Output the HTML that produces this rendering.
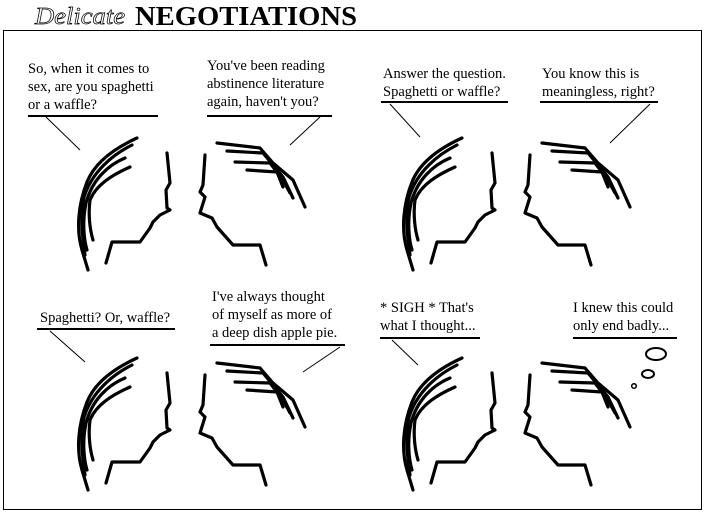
<!DOCTYPE html>
<html><head><meta charset="utf-8"><style>
html,body{margin:0;padding:0;background:#fff;width:705px;height:513px;overflow:hidden}
svg{display:block}
text{font-family:"Liberation Serif",serif;font-size:14.5px;fill:#000}
</style></head><body>
<svg width="705" height="513" viewBox="0 0 705 513" xmlns="http://www.w3.org/2000/svg">
<defs>
<g id="fig" fill="none" stroke="#000" stroke-width="3.2" stroke-linejoin="round" stroke-linecap="round">
  <path d="M137,138 C115,148 95,162 87,182 C78,205 76,230 82,250 L88,270"/>
  <path d="M132,145 C112,155 92,172 84,197 C80,215 82,235 85,255"/>
  <path d="M125,158 C108,165 92,180 86,203 C82,222 84,240 87,250"/>
  <path d="M130,167 C112,175 96,185 90,200 C88,215 90,230 93,240"/>
  <path d="M167,153 L170,183 L166,190 L167,208 L170,210 L160,215 L153,222 L150,228 L140,242 L112,242 L106,263"/>
  <path d="M205,155 L203,185 L200,192 L205,197 L200,213 L212,218 L217,227 L233,245 L260,245 L266,265"/>
  <path d="M217,143 L260,148 L273,163 L293,180 L305,207"/>
  <path d="M227,151 L263,153 L283,177 L293,198"/>
  <path d="M235,162 L270,163 L283,180 L290,193"/>
  <path d="M247,170 L277,172 L283,187"/>
</g>
</defs>
<rect x="3.5" y="30.5" width="698" height="479" fill="none" stroke="#000" stroke-width="1"/>
<text x="35" y="24" style="font-family:'Liberation Serif',serif;font-style:italic;font-size:24px;fill:#fff;stroke:#000;stroke-width:0.7" textLength="90" lengthAdjust="spacingAndGlyphs">Delicate</text>
<text x="135" y="25" style="font-family:'Liberation Serif',serif;font-weight:bold;font-size:27px" textLength="222" lengthAdjust="spacingAndGlyphs">NEGOTIATIONS</text>

<use href="#fig"/>
<use href="#fig" transform="translate(325,0)"/>
<use href="#fig" transform="translate(0,220)"/>
<use href="#fig" transform="translate(325,220)"/>

<g stroke="#000" fill="none">
  <line x1="28" y1="116" x2="158" y2="116" stroke-width="2"/>
  <line x1="46" y1="117" x2="80" y2="150"/>
  <line x1="207" y1="116" x2="332" y2="116" stroke-width="2"/>
  <line x1="320" y1="117" x2="290" y2="145"/>
  <line x1="381" y1="102" x2="508" y2="102" stroke-width="2"/>
  <line x1="390" y1="104" x2="420" y2="137"/>
  <line x1="540" y1="102" x2="658" y2="102" stroke-width="2"/>
  <line x1="650" y1="104" x2="610" y2="143"/>
  <line x1="37" y1="329" x2="175" y2="329" stroke-width="2"/>
  <line x1="50" y1="331" x2="85" y2="362"/>
  <line x1="210" y1="345" x2="345" y2="345" stroke-width="2"/>
  <line x1="340" y1="347" x2="303" y2="372"/>
  <line x1="380" y1="338" x2="480" y2="338" stroke-width="2"/>
  <line x1="392" y1="340" x2="418" y2="365"/>
  <line x1="573" y1="338" x2="677" y2="338" stroke-width="2"/>
  <ellipse cx="656" cy="354" rx="10" ry="6" stroke-width="2"/>
  <ellipse cx="648" cy="374" rx="6" ry="4" stroke-width="2"/>
  <circle cx="634" cy="386" r="2.3" stroke-width="1.5"/>
</g>

<text x="28" y="73">So, when it comes to</text>
<text x="28" y="91">sex, are you spaghetti</text>
<text x="28" y="109">or a waffle?</text>
<text x="207" y="70">You've been reading</text>
<text x="207" y="88">abstinence literature</text>
<text x="207" y="106">again, haven't you?</text>
<text x="383" y="78">Answer the question.</text>
<text x="383" y="96">Spaghetti or waffle?</text>
<text x="542" y="78">You know this is</text>
<text x="542" y="96">meaningless, right?</text>
<text x="40" y="322">Spaghetti? Or, waffle?</text>
<text x="212" y="301">I've always thought</text>
<text x="212" y="319">of myself as more of</text>
<text x="212" y="337">a deep dish apple pie.</text>
<text x="380" y="312">* SIGH * That's</text>
<text x="380" y="330">what I thought...</text>
<text x="573" y="312">I knew this could</text>
<text x="573" y="330">only end badly...</text>
</svg>
</body></html>
